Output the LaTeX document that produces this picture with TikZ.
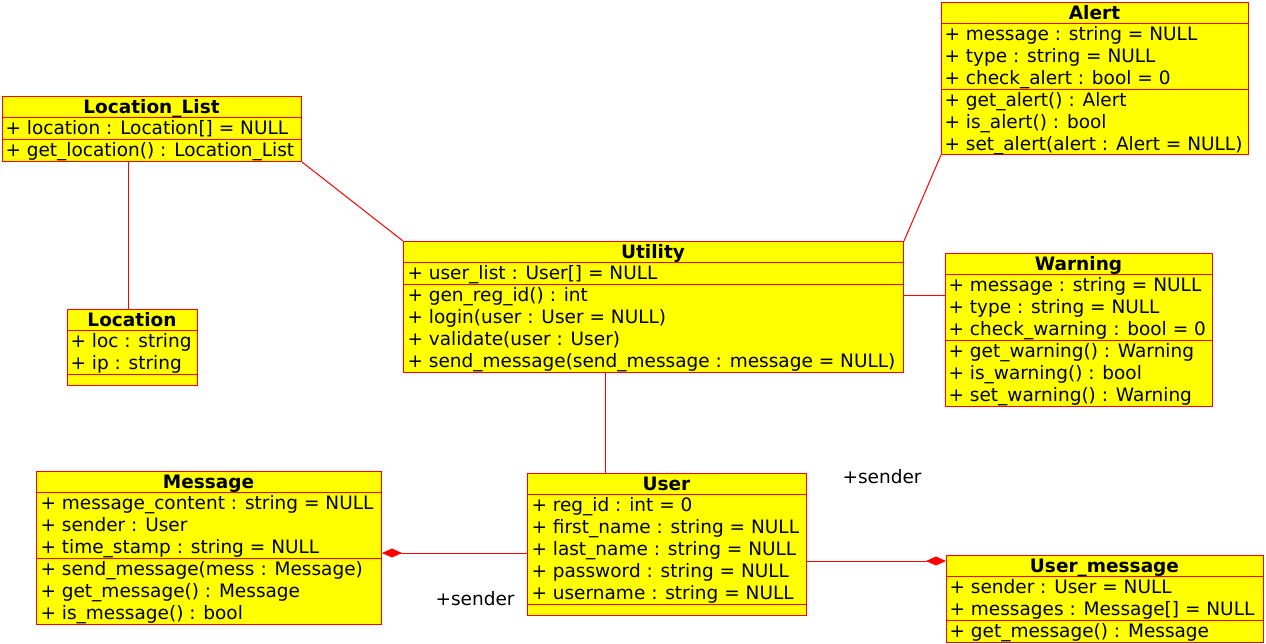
\documentclass[tikz,border=0pt]{standalone}
\usepackage{fontspec}
\setmainfont{DejaVu Sans}
\usetikzlibrary{arrows.meta}

\definecolor{umlfill}{RGB}{255,255,0}
\definecolor{umlline}{RGB}{255,0,0}

\tikzset{every picture/.style={line width=1pt}}
\tikzset{
  classbox/.style={draw=umlline, fill=umlfill, anchor=north west, inner sep=0pt},
  classsep/.style={draw=umlline},
  classtitle/.style={anchor=base, inner sep=0pt, font=\fontsize{18.5}{22}\selectfont\bfseries},
  % base of a multi-line member node = baseline of its last line
  member/.style={anchor=base west, inner sep=0pt, align=left, font=\fontsize{18.5}{22}\selectfont},
  link/.style={draw=umlline},
  owner/.style={draw=umlline, -{Diamond[length=20pt, width=9pt, fill=umlline]}},
  rolelabel/.style={inner sep=0pt, font=\fontsize{18.5}{22}\selectfont}
}

\begin{document}
\begin{tikzpicture}[x=1pt,y=-1pt]
\useasboundingbox (0,0) rectangle (1266,643);

% Class: Location_List
\node[classbox, minimum width=299, minimum height=65] (loclist) at (2,96) {};
\draw[classsep] (2,117) -- (301,117);
\draw[classsep] (2,139) -- (301,139);
\node[classtitle] (loclist title) at (151.5,113) {Location\_List};
\node[member] (loclist attr) at (5,134) {+ location : Location[] = NULL};
\node[member] (loclist meth) at (5,156) {+ get\_location() : Location\_List};

% Class: Location
\node[classbox, minimum width=130, minimum height=76] (location) at (67,309) {};
\draw[classsep] (67,330) -- (197,330);
\draw[classsep] (67,374) -- (197,374);
\node[classtitle] (location title) at (132,326) {Location};
\node[member] (location attr) at (70,369) {+ loc : string\\+ ip : string};

% Class: Utility
\node[classbox, minimum width=500, minimum height=131] (utility) at (403,241) {};
\draw[classsep] (403,262) -- (903,262);
\draw[classsep] (403,284) -- (903,284);
\node[classtitle] (utility title) at (653,258) {Utility};
\node[member] (utility attr) at (407,279) {+ user\_list : User[] = NULL};
\node[member] (utility meth) at (407,367) {+ gen\_reg\_id() : int\\+ login(user : User = NULL)\\+ validate(user : User)\\+ send\_message(send\_message : message = NULL)};

% Class: Alert
\node[classbox, minimum width=307, minimum height=152] (alert) at (941,2) {};
\draw[classsep] (941,23) -- (1248,23);
\draw[classsep] (941,89) -- (1248,89);
\node[classtitle] (alert title) at (1094.5,19) {Alert};
\node[member] (alert attr) at (944,84) {+ message : string = NULL\\+ type : string = NULL\\+ check\_alert : bool = 0};
\node[member] (alert meth) at (944,150) {+ get\_alert() : Alert\\+ is\_alert() : bool\\+ set\_alert(alert : Alert = NULL)};

% Class: Warning
\node[classbox, minimum width=267, minimum height=153] (warning) at (945,253) {};
\draw[classsep] (945,274) -- (1212,274);
\draw[classsep] (945,340) -- (1212,340);
\node[classtitle] (warning title) at (1078.5,270) {Warning};
\node[member] (warning attr) at (948,335) {+ message : string = NULL\\+ type : string = NULL\\+ check\_warning : bool = 0};
\node[member] (warning meth) at (948,401) {+ get\_warning() : Warning\\+ is\_warning() : bool\\+ set\_warning() : Warning};

% Class: Message
\node[classbox, minimum width=345, minimum height=153] (message) at (36,471) {};
\draw[classsep] (36,492) -- (381,492);
\draw[classsep] (36,558) -- (381,558);
\node[classtitle] (message title) at (208.5,488) {Message};
\node[member] (message attr) at (40,553) {+ message\_content : string = NULL\\+ sender : User\\+ time\_stamp : string = NULL};
\node[member] (message meth) at (40,619) {+ send\_message(mess : Message)\\+ get\_message() : Message\\+ is\_message() : bool};

% Class: User
\node[classbox, minimum width=279, minimum height=142] (user) at (527,473) {};
\draw[classsep] (527,494) -- (806,494);
\draw[classsep] (527,604) -- (806,604);
\node[classtitle] (user title) at (666.5,490) {User};
\node[member] (user attr) at (531,599) {+ reg\_id : int = 0\\+ first\_name : string = NULL\\+ last\_name : string = NULL\\+ password : string = NULL\\+ username : string = NULL};

% Class: User_message
\node[classbox, minimum width=317, minimum height=87] (usermsg) at (946,555) {};
\draw[classsep] (946,576) -- (1263,576);
\draw[classsep] (946,620) -- (1263,620);
\node[classtitle] (usermsg title) at (1104.5,572) {User\_message};
\node[member] (usermsg attr) at (949,615) {+ sender : User = NULL\\+ messages : Message[] = NULL};
\node[member] (usermsg meth) at (949,637) {+ get\_message() : Message};

% Associations
\draw[link] ([xshift=126]loclist.south west) -- ([xshift=61]location.north west);
\draw[link] (loclist.south east) -- (utility.north west);
\draw[link] (alert.south west) -- (utility.north east);
\draw[link] ([yshift=-54]utility.north east) -- ([yshift=-42]warning.north west);
\draw[link] ([xshift=202]utility.south west) -- ([xshift=78]user.north west);

% Aggregations
\draw[owner] ([yshift=-80]user.north west) -- ([yshift=-82]message.north east);
\draw[owner] ([yshift=-88]user.north east) -- ([yshift=-6]usermsg.north west);
\node[rolelabel] (sender left) at (475,599) {+sender};
\node[rolelabel] (sender right) at (882,477) {+sender};

\end{tikzpicture}
\end{document}
